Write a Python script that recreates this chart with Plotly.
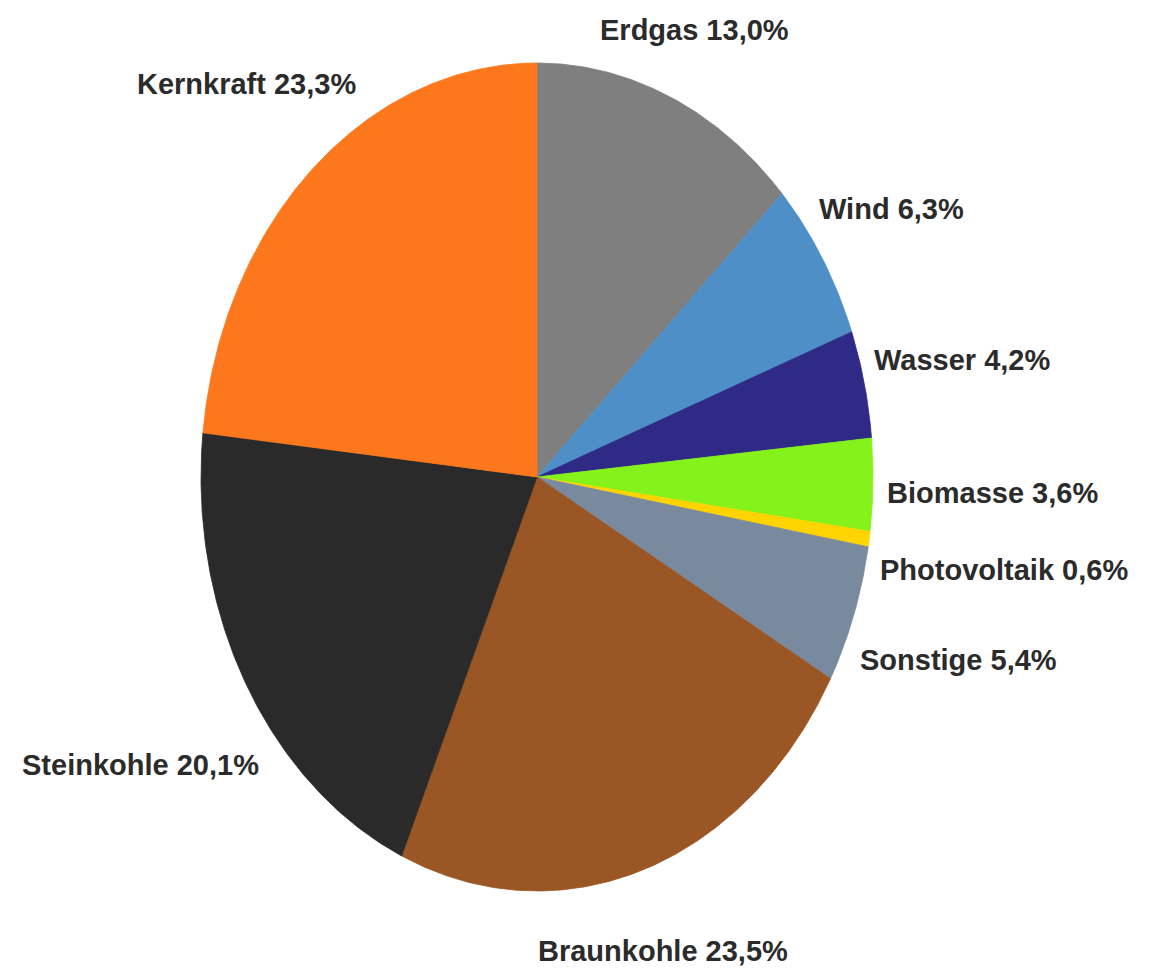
import numpy as np
import plotly.graph_objects as go

# Electricity generation mix, shares in percent (clockwise from 12 o'clock)
sources = ["Erdgas", "Wind", "Wasser", "Biomasse", "Photovoltaik",
           "Sonstige", "Braunkohle", "Steinkohle", "Kernkraft"]
shares = [13.0, 6.3, 4.2, 3.6, 0.6, 5.4, 23.5, 20.1, 23.3]
colors = ["#7f7f7f", "#4f8fc8", "#2e2a86", "#86f21c", "#ffd400",
          "#7a8a9e", "#9a5624", "#2a2a2a", "#fd771c"]

# Label anchor points (pixels from top-left) and horizontal anchoring
label_pos = [(694, 30, "center"), (817, 209, "left"), (872, 360, "left"),
             (885, 493, "left"), (878, 570, "left"), (858, 660, "left"),
             (663, 951, "center"), (140, 765, "center"), (246, 84, "center")]

W, H = 1151, 968
CX, CY = 537, 477      # pie centre in pixels
RX, RY = 336, 414      # horizontal / vertical radius in pixels

fig = go.Figure()

total = sum(shares)
start = 0.0
for name, val, col in zip(sources, shares, colors):
    a0 = start / total * 2 * np.pi
    a1 = (start + val) / total * 2 * np.pi
    n = max(4, int(np.degrees(a1 - a0) / 0.4))
    t = np.linspace(a0, a1, n)
    xs = np.concatenate([[0.0], np.sin(t), [0.0]])
    ys = np.concatenate([[0.0], np.cos(t), [0.0]])
    fig.add_trace(go.Scatter(
        x=xs, y=ys, mode="lines", fill="toself",
        fillcolor=col, line=dict(color=col, width=0.8),
        hoverinfo="skip", showlegend=False, name=name))
    start += val

for name, val, (px, py, anchor) in zip(sources, shares, label_pos):
    txt = f"{name} {val:.1f}%".replace(".", ",")
    fig.add_annotation(
        x=px / W, y=1 - py / H, xref="paper", yref="paper",
        text=txt, showarrow=False, xanchor=anchor, yanchor="middle",
        font=dict(family="Liberation Sans, Arial, sans-serif", size=29,
                  color="#2b2b2b", weight="bold"))

fig.update_layout(
    width=W, height=H, autosize=False,
    margin=dict(l=0, r=0, t=0, b=0),
    paper_bgcolor="white", plot_bgcolor="white",
    xaxis=dict(range=[-CX / RX, (W - CX) / RX], visible=False,
               fixedrange=True),
    yaxis=dict(range=[-(H - CY) / RY, CY / RY], visible=False,
               fixedrange=True),
)

fig.write_html("out.html")
